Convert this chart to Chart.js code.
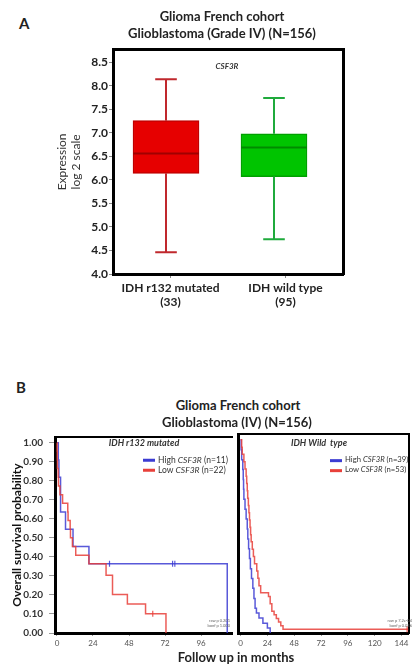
<!DOCTYPE html>
<html><head><meta charset="utf-8">
<script src="https://cdn.jsdelivr.net/npm/chart.js@4.4.1/dist/chart.umd.min.js"></script>
<style>
html,body{margin:0;padding:0;background:#fff;}
body{width:414px;height:669px;position:relative;overflow:hidden;font-family:Lato,'Open Sans',sans-serif;color:#222;}
.t{position:absolute;white-space:nowrap;line-height:1;}
.c{transform:translate(-50%,-50%);}
.l{transform:translate(0,-50%);}
.r{transform:translate(-100%,-50%);}
canvas{position:absolute;}
.sw{display:inline-block;width:12px;height:3px;vertical-align:middle;margin-right:3px;}
</style></head><body>
<canvas id="chartA" width="384" height="320" style="left:30px;top:0px"></canvas>
<canvas id="kmLeft" width="238" height="244" style="left:0px;top:425px"></canvas>
<canvas id="kmRight" width="181" height="244" style="left:233px;top:425px"></canvas>

<div class="t" style="left:19px;top:16px;font-size:15px;font-weight:bold;">A</div>
<div class="t c" style="left:227px;top:66px;font-size:8px;font-weight:bold;font-style:italic;color:#333;">CSF3R</div>

<div class="t" style="left:16px;top:380px;font-size:15px;font-weight:bold;">B</div>
<div class="t c" style="left:238px;top:405px;font-size:13px;font-weight:bold;">Glioma French cohort</div>
<div class="t c" style="left:237px;top:422px;font-size:13px;font-weight:bold;">Glioblastoma (IV) (N=156)</div>

<div class="t c" style="left:144px;top:442px;font-size:9px;font-style:italic;font-weight:bold;color:#333;">IDH r132 mutated</div>
<div class="t l" style="left:143px;top:460px;font-size:8.5px;color:#333;"><span class="sw" style="background:#3c3cd2"></span>High <i>CSF3R</i> (n=11)</div>
<div class="t l" style="left:143px;top:470px;font-size:8.5px;color:#333;"><span class="sw" style="background:#e8403a"></span>Low <i>CSF3R</i> (n=22)</div>

<div class="t c" style="left:319px;top:442px;font-size:9px;font-style:italic;font-weight:bold;color:#333;">IDH Wild&nbsp; type</div>
<div class="t l" style="left:330px;top:460px;font-size:7.7px;color:#333;"><span class="sw" style="background:#3c3cd2"></span>High <i>CSF3R</i> (n=39)</div>
<div class="t l" style="left:330px;top:470px;font-size:7.7px;color:#333;"><span class="sw" style="background:#e8403a"></span>Low <i>CSF3R</i> (n=53)</div>

<div class="t r" style="left:230px;top:621px;font-size:4px;color:#666;">raw p 0.201</div>
<div class="t r" style="left:230px;top:626px;font-size:4px;color:#666;">bonf p 1.000</div>
<div class="t r" style="left:412px;top:621px;font-size:4px;color:#666;">raw p 7.2e-04</div>
<div class="t r" style="left:412px;top:626px;font-size:4px;color:#666;">bonf p 0.036</div>

<div class="t c" style="left:236px;top:657px;font-size:13px;font-weight:bold;">Follow up in months</div>

<script>
// ---------------- Panel A data ----------------
const categoriesA = [["IDH r132 mutated","(33)"],["IDH wild type","(95)"]];
const boxPositions = [1, 2];
const lowerWhisker = [4.46, 4.74];
const lowerQuartile = [6.14, 6.07];
const medianValue = [6.56, 6.69];
const upperQuartile = [7.26, 6.98];
const upperWhisker = [8.14, 7.74];
const yTicksA = [4.0, 4.5, 5.0, 5.5, 6.0, 6.5, 7.0, 7.5, 8.0, 8.5];

// ---------------- Panel B data ----------------
const kmTicksX = [0, 24, 48, 72, 96, 120, 144];
const kmTicksY = [0.0, 0.1, 0.2, 0.3, 0.4, 0.5, 0.6, 0.7, 0.8, 0.9, 1.0];

const mutHighTime = [0, 0.9, 1.3, 2.4, 5.7, 10.7, 21.3, 113.4];
const mutHighSurv = [1, 0.909, 0.818, 0.636, 0.545, 0.455, 0.364, 0];
const mutHighCensor = [35, 77, 78.5];

const mutLowTime = [0, 0.1, 0.2, 0.3, 0.8, 1.0, 2.0, 3.75, 7.2, 7.4, 8.8, 9.0, 10.3, 12.5, 21.3, 32.7, 37.0, 46.9, 59.0, 72.6];
const mutLowSurv = [1, 0.955, 0.909, 0.864, 0.818, 0.773, 0.727, 0.682, 0.636, 0.591, 0.545, 0.5, 0.455, 0.409, 0.364, 0.303, 0.202, 0.152, 0.101, 0];
const mutLowCensor = [63.8];

const wtHighTime = [0, 0.5, 1.0, 2.0, 2.4, 2.7, 3.0, 4.0, 5.0, 6.0, 6.5, 7.2, 8.0, 8.8, 9.8, 11.0, 12.0, 13.0, 14.2, 16.5, 20, 24, 26.5];
const wtHighSurv = [1, 0.949, 0.897, 0.846, 0.795, 0.744, 0.692, 0.641, 0.590, 0.538, 0.487, 0.436, 0.385, 0.333, 0.282, 0.231, 0.179, 0.128, 0.103, 0.077, 0.051, 0.026, 0];
const wtHighCensor = [];

const wtLowTime = [0, 1.0, 1.5, 3.0, 4.0, 5.0, 5.5, 6.0, 6.4, 7.0, 7.5, 8.0, 8.5, 9.0, 9.5, 10.5, 11.5, 12.5, 14.5, 15.5, 16.5, 18.0, 25.0, 26.5, 28, 30, 32, 34, 36, 38, 150];
const wtLowSurv = [1, 0.962, 0.925, 0.887, 0.849, 0.811, 0.774, 0.736, 0.698, 0.660, 0.623, 0.585, 0.547, 0.509, 0.472, 0.434, 0.396, 0.358, 0.321, 0.283, 0.245, 0.208, 0.189, 0.151, 0.113, 0.094, 0.075, 0.057, 0.038, 0.019, 0.019];
const wtLowCensor = [149];

// ---------------- styles ----------------
const FONT = "Lato, 'Open Sans', sans-serif";
const BOX_FILL = ['#e60000', '#00c400'];
const BOX_EDGE = ['#c00000', '#00a000'];
const WHISKER = ['#c0282d', '#1faa3c'];
const MEDIAN = ['#a00000', '#008a00'];
const BOX_HALF = 0.3056, CAP_HALF = 0.1;
const KM_BLUE = 'rgba(60,60,210,0.85)';
const KM_RED = 'rgba(232,64,58,0.85)';

Chart.defaults.font.family = FONT;
Chart.defaults.animation = false;

function whiskerPoints(i) {
  const x = boxPositions[i], c = CAP_HALF;
  return [
    {x, y: upperQuartile[i]}, {x, y: upperWhisker[i]}, {x, y: null},
    {x: x - c, y: upperWhisker[i]}, {x: x + c, y: upperWhisker[i]}, {x, y: null},
    {x, y: lowerQuartile[i]}, {x, y: lowerWhisker[i]}, {x, y: null},
    {x: x - c, y: lowerWhisker[i]}, {x: x + c, y: lowerWhisker[i]}
  ];
}
function medianPoints(i) {
  const x = boxPositions[i];
  return [{x: x - BOX_HALF, y: medianValue[i]}, {x: x + BOX_HALF, y: medianValue[i]}];
}
const frameAxis = (pos, w, size) => ({
  type: 'linear', position: pos, display: true, offset: false,
  ticks: {display: false}, grid: {display: false},
  border: {display: true, width: w, color: '#000'},
  afterFit: s => { if (pos === 'top' || pos === 'bottom') s.height = size || 0; else s.width = size || 0; }
});

const datasetsA = [
  {
    type: 'bar', xAxisID: 'xl', order: 2,
    data: boxPositions.map((x, i) => ({x, y: [lowerQuartile[i], upperQuartile[i]]})),
    backgroundColor: BOX_FILL, borderColor: BOX_EDGE, borderWidth: 1.5,
    borderSkipped: false, barThickness: 66
  }
];
boxPositions.forEach((x, i) => {
  datasetsA.push({type: 'line', xAxisID: 'xl', order: 1, data: whiskerPoints(i),
    borderColor: WHISKER[i], borderWidth: 2, pointRadius: 0, spanGaps: false, fill: false});
  datasetsA.push({type: 'line', xAxisID: 'xl', order: 0, data: medianPoints(i),
    borderColor: MEDIAN[i], borderWidth: 2, pointRadius: 0, fill: false});
});

new Chart(document.getElementById('chartA'), {
  type: 'bar',
  data: {labels: categoriesA, datasets: datasetsA},
  options: {
    responsive: false, devicePixelRatio: 1,
    layout: {padding: {left: 21, right: 21, top: 2, bottom: 0}},
    plugins: {
      legend: {display: false}, tooltip: {enabled: false},
      title: {display: true, text: ["Glioma French cohort", "Glioblastoma (Grade IV) (N=156)"],
        color: '#222', font: {size: 13, weight: 'bold', lineHeight: 1.3}, padding: {top: 6, bottom: 8}}
    },
    scales: {
      x: {type: 'category', position: 'bottom', offset: true,
        grid: {display: true, drawOnChartArea: false, drawTicks: true, tickLength: 4, color: '#888', offset: false},
        border: {display: true, width: 3, color: '#000'},
        ticks: {color: '#222', font: {size: 12, weight: 'bold'}, padding: 3, maxRotation: 0, autoSkip: false},
        afterFit: s => { s.height = 46; }
      },
      xl: {type: 'linear', display: false, offset: false, grid: {offset: false}, min: 0.509, max: 2.639},
      y: {type: 'linear', position: 'left', min: 4.0, max: 8.766,
        afterBuildTicks: s => { s.ticks = yTicksA.map(v => ({value: v})); },
        ticks: {color: '#222', font: {size: 12, weight: 'bold'}, padding: 1, callback: v => Number(v).toFixed(1)},
        grid: {display: true, drawOnChartArea: false, drawTicks: true, tickLength: 4, color: '#888'},
        border: {display: true, width: 3, color: '#000'},
        title: {display: true, text: ["Expression", "log 2 scale"], color: '#333',
          font: {size: 12, lineHeight: 1.2}, padding: {top: 4, bottom: 0}},
        afterFit: s => { s.width = 62; }
      },
      xTop: frameAxis('top', 3, 0),
      yRight: frameAxis('right', 3, 50)
    }
  }
});

// ---------------- KM helpers ----------------
function stepPoints(T, S) { return T.map((t, i) => ({x: t, y: S[i]})); }
function survAt(T, S, t) { let v = S[0]; for (let i = 0; i < T.length; i++) { if (T[i] <= t) v = S[i]; } return v; }
function censorPoints(C, T, S) { return C.map(t => ({x: t, y: survAt(T, S, t)})); }
function kmLine(T, S, color) {
  return {type: 'line', data: stepPoints(T, S), stepped: 'before', borderColor: color,
    borderWidth: 1.5, pointRadius: 0, fill: false, tension: 0};
}
function kmCensor(C, T, S, color) {
  return {type: 'scatter', data: censorPoints(C, T, S), pointStyle: 'line', rotation: 90,
    pointRadius: 3, borderColor: color, borderWidth: 1.2, showLine: false};
}
function kmOptions(xmin, xmax, showY) {
  return {
    responsive: false, devicePixelRatio: 1,
    layout: {padding: {left: 0, right: showY ? 3 : 1, top: 9, bottom: 0}},
    plugins: {legend: {display: false}, tooltip: {enabled: false}, title: {display: false}},
    scales: {
      x: {type: 'linear', position: 'bottom', min: xmin, max: xmax,
        afterBuildTicks: s => { s.ticks = kmTicksX.filter(v => v >= s.min && v <= s.max).map(v => ({value: v})); },
        ticks: {color: '#555', font: {size: 8}, padding: 3, maxRotation: 0, autoSkip: false},
        grid: {display: true, drawOnChartArea: false, drawTicks: true, tickLength: 3, color: '#999'},
        border: {display: true, width: 3, color: '#000'},
        afterFit: s => { s.height = 36; }
      },
      y: {type: 'linear', position: 'left', min: 0, max: 1.03,
        afterBuildTicks: s => { s.ticks = kmTicksY.map(v => ({value: v})); },
        ticks: {display: showY, color: '#333', font: {size: 10, weight: 'bold'}, padding: 6,
          callback: v => Number(v).toFixed(2)},
        grid: {display: showY, drawOnChartArea: false, drawTicks: true, tickLength: 6, color: '#999'},
        border: {display: true, width: 3, color: '#000'},
        title: {display: showY, text: "Overall survival probability", color: '#111',
          font: {size: 12, weight: 'bold', lineHeight: 1.25}, padding: {top: 10, bottom: 0}},
        afterFit: s => { s.width = showY ? 55 : 3; }
      },
      xTop: frameAxis('top', 2, 0),
      yRight: showY ? {display: false} : frameAxis('right', 2, 0)
    }
  };
}

new Chart(document.getElementById('kmLeft'), {
  type: 'line',
  data: {datasets: [
    kmLine(mutLowTime, mutLowSurv, KM_RED),
    kmLine(mutHighTime, mutHighSurv, KM_BLUE),
    kmCensor(mutLowCensor, mutLowTime, mutLowSurv, KM_RED),
    kmCensor(mutHighCensor, mutHighTime, mutHighSurv, KM_BLUE)
  ]},
  options: kmOptions(-1.3, 117.1, true)
});

new Chart(document.getElementById('kmRight'), {
  type: 'line',
  data: {datasets: [
    kmLine(wtLowTime, wtLowSurv, KM_RED),
    kmLine(wtHighTime, wtHighSurv, KM_BLUE),
    kmCensor(wtLowCensor, wtLowTime, wtLowSurv, KM_RED),
    kmCensor(wtHighCensor, wtHighTime, wtHighSurv, KM_BLUE)
  ]},
  options: kmOptions(-2.1, 150.5, false)
});
</script>
</body></html>
